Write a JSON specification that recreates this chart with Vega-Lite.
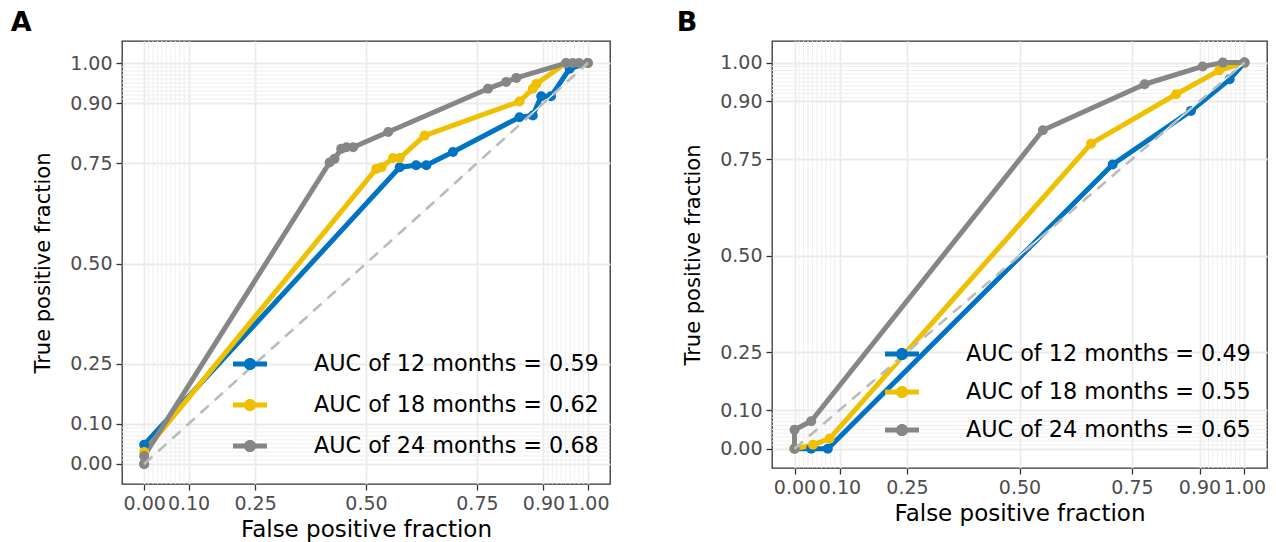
{
  "$schema": "https://vega.github.io/schema/vega-lite/v6.json",
  "background": "white",
  "padding": {"left": 10, "top": 7, "right": 0, "bottom": 0},
  "autosize": {"type": "pad"},
  "config": {
    "font": "DejaVu Sans",
    "view": {"stroke": "#333333", "strokeWidth": 1.3},
    "axis": {
      "domain": false,
      "grid": true,
      "gridColor": "#ebebeb",
      "gridWidth": 1.8,
      "tickColor": "#333333",
      "tickWidth": 1.3,
      "tickSize": 6,
      "labelFont": "DejaVu Sans",
      "labelFontSize": 19,
      "labelColor": "#4d4d4d",
      "labelPadding": 4,
      "labelOverlap": false,
      "labelFlush": false,
      "labelBound": false,
      "titleFont": "DejaVu Sans",
      "titleFontSize": 23,
      "titleFontWeight": "normal",
      "titleColor": "#000000",
      "titlePadding": 5
    },
    "axisY": {"titleFontSize": 21, "titlePadding": 16},
    "title": {"font": "DejaVu Sans", "fontSize": 27, "fontWeight": "bold", "color": "#000000", "anchor": "start", "baseline": "alphabetic", "offset": 4},
    "legend": {
      "labelFont": "DejaVu Sans",
      "labelFontSize": 22.3,
      "labelColor": "#000000",
      "labelLimit": 0,
      "symbolType": "M-1,-0.15H1V0.15H-1Z M0.36,0A0.36,0.36 0 1,1 -0.36,0A0.36,0.36 0 1,1 0.36,0Z",
      "symbolSize": 1156,
      "symbolStrokeWidth": 0,
      "symbolOpacity": 1,
      "labelOffset": 47,
      "padding": 0
    }
  },
  "datasets": {
    "minor": [
      {"m": 0.01}, {"m": 0.02}, {"m": 0.03}, {"m": 0.04}, {"m": 0.05}, {"m": 0.06}, {"m": 0.07}, {"m": 0.08}, {"m": 0.09},
      {"m": 0.91}, {"m": 0.92}, {"m": 0.93}, {"m": 0.94}, {"m": 0.95}, {"m": 0.96}, {"m": 0.97}, {"m": 0.98}, {"m": 0.99}
    ],
    "diag": [{"fpf": 0, "tpf": 0}, {"fpf": 1, "tpf": 1}],
    "rocA": [
      {"label": "AUC of 12 months = 0.59", "fpf": 0, "tpf": 0},
      {"label": "AUC of 12 months = 0.59", "fpf": 0, "tpf": 0.048},
      {"label": "AUC of 12 months = 0.59", "fpf": 0.576, "tpf": 0.74},
      {"label": "AUC of 12 months = 0.59", "fpf": 0.613, "tpf": 0.745},
      {"label": "AUC of 12 months = 0.59", "fpf": 0.636, "tpf": 0.745},
      {"label": "AUC of 12 months = 0.59", "fpf": 0.696, "tpf": 0.778},
      {"label": "AUC of 12 months = 0.59", "fpf": 0.846, "tpf": 0.865},
      {"label": "AUC of 12 months = 0.59", "fpf": 0.876, "tpf": 0.869},
      {"label": "AUC of 12 months = 0.59", "fpf": 0.895, "tpf": 0.917},
      {"label": "AUC of 12 months = 0.59", "fpf": 0.917, "tpf": 0.917},
      {"label": "AUC of 12 months = 0.59", "fpf": 0.959, "tpf": 0.986},
      {"label": "AUC of 12 months = 0.59", "fpf": 1, "tpf": 1},
      {"label": "AUC of 18 months = 0.62", "fpf": 0, "tpf": 0},
      {"label": "AUC of 18 months = 0.62", "fpf": 0, "tpf": 0.03},
      {"label": "AUC of 18 months = 0.62", "fpf": 0.523, "tpf": 0.736},
      {"label": "AUC of 18 months = 0.62", "fpf": 0.535, "tpf": 0.74},
      {"label": "AUC of 18 months = 0.62", "fpf": 0.561, "tpf": 0.763},
      {"label": "AUC of 18 months = 0.62", "fpf": 0.576, "tpf": 0.763},
      {"label": "AUC of 18 months = 0.62", "fpf": 0.632, "tpf": 0.819},
      {"label": "AUC of 18 months = 0.62", "fpf": 0.846, "tpf": 0.904},
      {"label": "AUC of 18 months = 0.62", "fpf": 0.876, "tpf": 0.936},
      {"label": "AUC of 18 months = 0.62", "fpf": 0.884, "tpf": 0.948},
      {"label": "AUC of 18 months = 0.62", "fpf": 0.951, "tpf": 1},
      {"label": "AUC of 18 months = 0.62", "fpf": 1, "tpf": 1},
      {"label": "AUC of 24 months = 0.68", "fpf": 0, "tpf": 0},
      {"label": "AUC of 24 months = 0.68", "fpf": 0, "tpf": 0.02},
      {"label": "AUC of 24 months = 0.68", "fpf": 0.418, "tpf": 0.752},
      {"label": "AUC of 24 months = 0.68", "fpf": 0.429, "tpf": 0.761},
      {"label": "AUC of 24 months = 0.68", "fpf": 0.444, "tpf": 0.786},
      {"label": "AUC of 24 months = 0.68", "fpf": 0.456, "tpf": 0.79},
      {"label": "AUC of 24 months = 0.68", "fpf": 0.471, "tpf": 0.79},
      {"label": "AUC of 24 months = 0.68", "fpf": 0.55, "tpf": 0.828},
      {"label": "AUC of 24 months = 0.68", "fpf": 0.775, "tpf": 0.936},
      {"label": "AUC of 24 months = 0.68", "fpf": 0.816, "tpf": 0.953},
      {"label": "AUC of 24 months = 0.68", "fpf": 0.839, "tpf": 0.963},
      {"label": "AUC of 24 months = 0.68", "fpf": 0.951, "tpf": 1},
      {"label": "AUC of 24 months = 0.68", "fpf": 0.966, "tpf": 1},
      {"label": "AUC of 24 months = 0.68", "fpf": 0.98, "tpf": 1},
      {"label": "AUC of 24 months = 0.68", "fpf": 1, "tpf": 1}
    ],
    "rocB": [
      {"label": "AUC of 12 months = 0.49", "fpf": 0, "tpf": 0},
      {"label": "AUC of 12 months = 0.49", "fpf": 0.037, "tpf": 0},
      {"label": "AUC of 12 months = 0.49", "fpf": 0.074, "tpf": 0},
      {"label": "AUC of 12 months = 0.49", "fpf": 0.707, "tpf": 0.736},
      {"label": "AUC of 12 months = 0.49", "fpf": 0.881, "tpf": 0.875},
      {"label": "AUC of 12 months = 0.49", "fpf": 0.967, "tpf": 0.957},
      {"label": "AUC of 12 months = 0.49", "fpf": 1, "tpf": 1},
      {"label": "AUC of 18 months = 0.55", "fpf": 0, "tpf": 0},
      {"label": "AUC of 18 months = 0.55", "fpf": 0.041, "tpf": 0.01},
      {"label": "AUC of 18 months = 0.55", "fpf": 0.078, "tpf": 0.026},
      {"label": "AUC of 18 months = 0.55", "fpf": 0.659, "tpf": 0.79},
      {"label": "AUC of 18 months = 0.55", "fpf": 0.848, "tpf": 0.918},
      {"label": "AUC of 18 months = 0.55", "fpf": 0.944, "tpf": 0.98},
      {"label": "AUC of 18 months = 0.55", "fpf": 1, "tpf": 1},
      {"label": "AUC of 24 months = 0.65", "fpf": 0, "tpf": 0},
      {"label": "AUC of 24 months = 0.65", "fpf": 0, "tpf": 0.049},
      {"label": "AUC of 24 months = 0.65", "fpf": 0.037, "tpf": 0.071},
      {"label": "AUC of 24 months = 0.65", "fpf": 0.552, "tpf": 0.825},
      {"label": "AUC of 24 months = 0.65", "fpf": 0.778, "tpf": 0.944},
      {"label": "AUC of 24 months = 0.65", "fpf": 0.907, "tpf": 0.99},
      {"label": "AUC of 24 months = 0.65", "fpf": 0.952, "tpf": 1},
      {"label": "AUC of 24 months = 0.65", "fpf": 1, "tpf": 1}
    ]
  },
  "spacing": 64,
  "resolve": {"scale": {"color": "independent", "x": "independent", "y": "independent"}, "legend": {"color": "independent"}},
  "hconcat": [
    {
      "width": 488,
      "height": 443,
      "title": {"text": "A", "dx": -22},
      "layer": [
        {
          "data": {"name": "minor"},
          "mark": {"type": "rule", "color": "#efefef", "strokeWidth": 1},
          "encoding": {
            "x": {"field": "m", "type": "quantitative", "scale": {"domain": [-0.05, 1.05], "nice": false, "zero": false},
                  "axis": {"values": [0, 0.1, 0.25, 0.5, 0.75, 0.9, 1], "format": ".2f", "title": "False positive fraction"}}
          }
        },
        {
          "data": {"name": "minor"},
          "mark": {"type": "rule", "color": "#efefef", "strokeWidth": 1},
          "encoding": {
            "y": {"field": "m", "type": "quantitative", "scale": {"domain": [-0.05, 1.055], "nice": false, "zero": false},
                  "axis": {"values": [0, 0.1, 0.25, 0.5, 0.75, 0.9, 1], "format": ".2f", "title": "True positive fraction"}}
          }
        },
        {
          "data": {"name": "rocA"},
          "mark": {"type": "line", "strokeWidth": 5, "strokeJoin": "round", "strokeCap": "round"},
          "encoding": {
            "x": {"field": "fpf", "type": "quantitative", "scale": {"domain": [-0.05, 1.05], "nice": false, "zero": false},
                  "axis": {"values": [0, 0.1, 0.25, 0.5, 0.75, 0.9, 1], "format": ".2f", "title": "False positive fraction"}},
            "y": {"field": "tpf", "type": "quantitative", "scale": {"domain": [-0.05, 1.055], "nice": false, "zero": false},
                  "axis": {"values": [0, 0.1, 0.25, 0.5, 0.75, 0.9, 1], "format": ".2f", "title": "True positive fraction"}},
            "color": {"field": "label", "type": "nominal",
                      "scale": {"domain": ["AUC of 12 months = 0.59", "AUC of 18 months = 0.62", "AUC of 24 months = 0.68"], "range": ["#0073C2", "#EFC000", "#868686"]},
                      "legend": {"orient": "none", "legendX": 111, "legendY": 306, "rowPadding": 12, "title": null}},
            "order": [{"field": "fpf"}, {"field": "tpf"}]
          }
        },
        {
          "data": {"name": "rocA"},
          "mark": {"type": "point", "filled": true, "size": 100, "opacity": 1},
          "encoding": {
            "x": {"field": "fpf", "type": "quantitative", "scale": {"domain": [-0.05, 1.05], "nice": false, "zero": false},
                  "axis": {"values": [0, 0.1, 0.25, 0.5, 0.75, 0.9, 1], "format": ".2f", "title": "False positive fraction"}},
            "y": {"field": "tpf", "type": "quantitative", "scale": {"domain": [-0.05, 1.055], "nice": false, "zero": false},
                  "axis": {"values": [0, 0.1, 0.25, 0.5, 0.75, 0.9, 1], "format": ".2f", "title": "True positive fraction"}},
            "color": {"field": "label", "type": "nominal",
                      "scale": {"domain": ["AUC of 12 months = 0.59", "AUC of 18 months = 0.62", "AUC of 24 months = 0.68"], "range": ["#0073C2", "#EFC000", "#868686"]},
                      "legend": {"orient": "none", "legendX": 111, "legendY": 306, "rowPadding": 12, "title": null}}
          }
        },
        {
          "data": {"name": "diag"},
          "mark": {"type": "line", "color": "#f4f4f4", "strokeWidth": 1.5},
          "encoding": {
            "x": {"field": "fpf", "type": "quantitative", "scale": {"domain": [-0.05, 1.05], "nice": false, "zero": false},
                  "axis": {"values": [0, 0.1, 0.25, 0.5, 0.75, 0.9, 1], "format": ".2f", "title": "False positive fraction"}},
            "y": {"field": "tpf", "type": "quantitative", "scale": {"domain": [-0.05, 1.055], "nice": false, "zero": false},
                  "axis": {"values": [0, 0.1, 0.25, 0.5, 0.75, 0.9, 1], "format": ".2f", "title": "True positive fraction"}}
          }
        },
        {
          "data": {"name": "diag"},
          "mark": {"type": "line", "color": "#bbbbbb", "strokeWidth": 2.6, "strokeDash": [11, 8]},
          "encoding": {
            "x": {"field": "fpf", "type": "quantitative", "scale": {"domain": [-0.05, 1.05], "nice": false, "zero": false},
                  "axis": {"values": [0, 0.1, 0.25, 0.5, 0.75, 0.9, 1], "format": ".2f", "title": "False positive fraction"}},
            "y": {"field": "tpf", "type": "quantitative", "scale": {"domain": [-0.05, 1.055], "nice": false, "zero": false},
                  "axis": {"values": [0, 0.1, 0.25, 0.5, 0.75, 0.9, 1], "format": ".2f", "title": "True positive fraction"}}
          }
        }
      ]
    },
    {
      "width": 495,
      "height": 427,
      "title": {"text": "B", "dx": -6},
      "layer": [
        {
          "data": {"name": "minor"},
          "mark": {"type": "rule", "color": "#efefef", "strokeWidth": 1},
          "encoding": {
            "x": {"field": "m", "type": "quantitative", "scale": {"domain": [-0.05, 1.05], "nice": false, "zero": false},
                  "axis": {"values": [0, 0.1, 0.25, 0.5, 0.75, 0.9, 1], "format": ".2f", "title": "False positive fraction"}}
          }
        },
        {
          "data": {"name": "minor"},
          "mark": {"type": "rule", "color": "#efefef", "strokeWidth": 1},
          "encoding": {
            "y": {"field": "m", "type": "quantitative", "scale": {"domain": [-0.05, 1.056], "nice": false, "zero": false},
                  "axis": {"values": [0, 0.1, 0.25, 0.5, 0.75, 0.9, 1], "format": ".2f", "title": "True positive fraction"}}
          }
        },
        {
          "data": {"name": "rocB"},
          "mark": {"type": "line", "strokeWidth": 5, "strokeJoin": "round", "strokeCap": "round"},
          "encoding": {
            "x": {"field": "fpf", "type": "quantitative", "scale": {"domain": [-0.05, 1.05], "nice": false, "zero": false},
                  "axis": {"values": [0, 0.1, 0.25, 0.5, 0.75, 0.9, 1], "format": ".2f", "title": "False positive fraction"}},
            "y": {"field": "tpf", "type": "quantitative", "scale": {"domain": [-0.05, 1.056], "nice": false, "zero": false},
                  "axis": {"values": [0, 0.1, 0.25, 0.5, 0.75, 0.9, 1], "format": ".2f", "title": "True positive fraction"}},
            "color": {"field": "label", "type": "nominal",
                      "scale": {"domain": ["AUC of 12 months = 0.49", "AUC of 18 months = 0.55", "AUC of 24 months = 0.65"], "range": ["#0073C2", "#EFC000", "#868686"]},
                      "legend": {"orient": "none", "legendX": 113, "legendY": 296, "rowPadding": 9, "title": null}},
            "order": [{"field": "fpf"}, {"field": "tpf"}]
          }
        },
        {
          "data": {"name": "rocB"},
          "mark": {"type": "point", "filled": true, "size": 100, "opacity": 1},
          "encoding": {
            "x": {"field": "fpf", "type": "quantitative", "scale": {"domain": [-0.05, 1.05], "nice": false, "zero": false},
                  "axis": {"values": [0, 0.1, 0.25, 0.5, 0.75, 0.9, 1], "format": ".2f", "title": "False positive fraction"}},
            "y": {"field": "tpf", "type": "quantitative", "scale": {"domain": [-0.05, 1.056], "nice": false, "zero": false},
                  "axis": {"values": [0, 0.1, 0.25, 0.5, 0.75, 0.9, 1], "format": ".2f", "title": "True positive fraction"}},
            "color": {"field": "label", "type": "nominal",
                      "scale": {"domain": ["AUC of 12 months = 0.49", "AUC of 18 months = 0.55", "AUC of 24 months = 0.65"], "range": ["#0073C2", "#EFC000", "#868686"]},
                      "legend": {"orient": "none", "legendX": 113, "legendY": 296, "rowPadding": 9, "title": null}}
          }
        },
        {
          "data": {"name": "diag"},
          "mark": {"type": "line", "color": "#f4f4f4", "strokeWidth": 1.5},
          "encoding": {
            "x": {"field": "fpf", "type": "quantitative", "scale": {"domain": [-0.05, 1.05], "nice": false, "zero": false},
                  "axis": {"values": [0, 0.1, 0.25, 0.5, 0.75, 0.9, 1], "format": ".2f", "title": "False positive fraction"}},
            "y": {"field": "tpf", "type": "quantitative", "scale": {"domain": [-0.05, 1.056], "nice": false, "zero": false},
                  "axis": {"values": [0, 0.1, 0.25, 0.5, 0.75, 0.9, 1], "format": ".2f", "title": "True positive fraction"}}
          }
        },
        {
          "data": {"name": "diag"},
          "mark": {"type": "line", "color": "#bbbbbb", "strokeWidth": 2.6, "strokeDash": [11, 8]},
          "encoding": {
            "x": {"field": "fpf", "type": "quantitative", "scale": {"domain": [-0.05, 1.05], "nice": false, "zero": false},
                  "axis": {"values": [0, 0.1, 0.25, 0.5, 0.75, 0.9, 1], "format": ".2f", "title": "False positive fraction"}},
            "y": {"field": "tpf", "type": "quantitative", "scale": {"domain": [-0.05, 1.056], "nice": false, "zero": false},
                  "axis": {"values": [0, 0.1, 0.25, 0.5, 0.75, 0.9, 1], "format": ".2f", "title": "True positive fraction"}}
          }
        }
      ]
    }
  ]
}
